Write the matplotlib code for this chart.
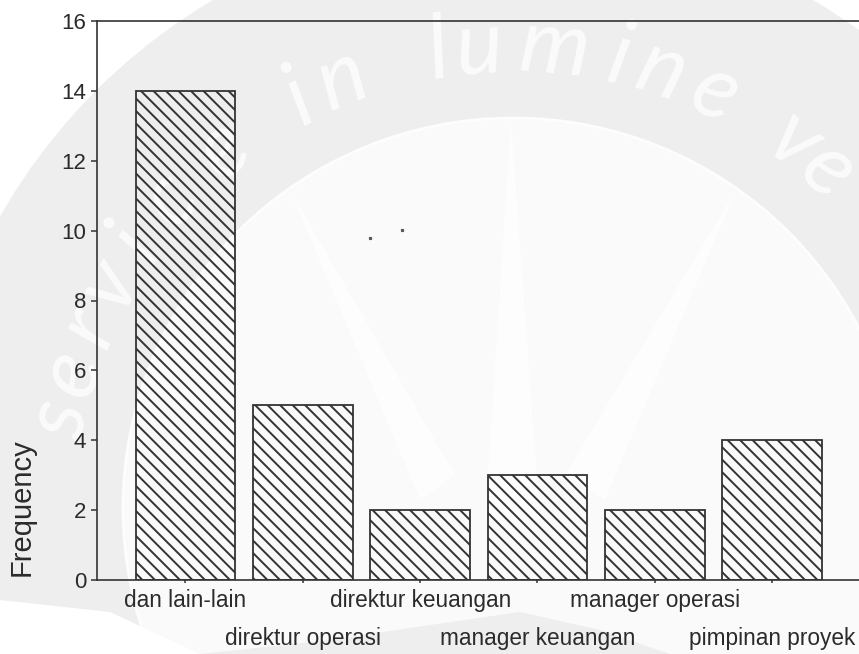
import numpy as np
import matplotlib
matplotlib.use("Agg")
import matplotlib.pyplot as plt
import matplotlib.hatch as mhatch
from matplotlib.patches import Circle, Polygon

categories = ["dan lain-lain", "direktur operasi", "direktur keuangan",
              "manager keuangan", "manager operasi", "pimpinan proyek"]
values = [14, 5, 2, 3, 2, 4]
y_ticks = [0, 2, 4, 6, 8, 10, 12, 14, 16]

# watermark letters and their angle on the seal (degrees from the top)
seal_letters = list("serviceinlumineve")
seal_angles = [-79, -73, -67, -61, -55, -48, -39, -27.5, -21.8,
               -9.4, -4.2, 5.2, 13.3, 18.8, 25.9, 37.5, 43]

W, H = 859, 654
SEAL_X, SEAL_Y = 513, 508
TEXT_COL = "#2b2b2b"
LINE_COL = "#333333"

plt.rcParams["font.family"] = ["Liberation Sans", "DejaVu Sans"]
plt.rcParams["hatch.linewidth"] = 1.4


# default densities are too sparse or too tight, the scan has a line every 12-13 px
class WideHatch(mhatch.SouthEastHatch):
    def __init__(self, hatch, density):
        super().__init__(hatch, density)
        self.num_lines = 16 if self.num_lines else 0
        self.num_vertices = (self.num_lines + 1) * 2


mhatch._hatch_types[mhatch._hatch_types.index(mhatch.SouthEastHatch)] = WideHatch

fig = plt.figure(figsize=(W / 100, H / 100), dpi=100)

# background seal, in pixel coordinates
bg = fig.add_axes([0, 0, 1, 1], zorder=0)
bg.set_xlim(0, W)
bg.set_ylim(H, 0)
bg.axis("off")
bg.add_patch(Circle((SEAL_X, SEAL_Y), 590, fc="#eeeeee", ec="none"))
bg.add_patch(Circle((SEAL_X, SEAL_Y), 390, fc="#fafafa", ec="#fdfdfd", lw=2))
for tip, base in [((511, 118), [(485, 520), (540, 520)]),
                  ((290, 190), [(420, 500), (455, 475)]),
                  ((736, 190), [(565, 475), (605, 500)])]:
    bg.add_patch(Polygon([tip] + base, fc="#fdfdfd", ec="none"))
bg.add_patch(Polygon([(200, 654), (330, 640), (430, 625), (520, 612), (600, 630), (670, 654)],
                     fc="#eeeeee", ec="none"))
bg.add_patch(Polygon([(0, 600), (110, 612), (200, 654), (0, 654)], fc="#ffffff", ec="none"))
for ch, ang in zip(seal_letters, seal_angles):
    a = np.radians(ang)
    bg.text(SEAL_X + 462 * np.sin(a), SEAL_Y - 462 * np.cos(a), ch, rotation=-ang,
            rotation_mode="anchor", ha="center", va="center", fontsize=64,
            family="Lato", style="italic", color="#fbfbfb")
# specks from the scan
bg.plot([370, 402], [238, 230], ls="none", marker="s", ms=1.3, color="#555555")

ax = fig.add_axes([96.5 / W, 1 - 580 / H, (W - 96.5) / W, (580 - 21) / H], zorder=1)
ax.patch.set_alpha(0)

positions = np.arange(len(categories))
ax.bar(positions, values, width=0.85, facecolor="none", edgecolor=LINE_COL,
       linewidth=1.3, hatch="\\")
ax.set_xlim(-0.758, 5.74)
ax.set_ylim(0, 16)
ax.set_yticks(y_ticks)
ax.set_xticks(positions)
ax.set_xticklabels([])
ax.tick_params(axis="y", labelsize=16, length=4, width=1.1, color=LINE_COL,
               labelcolor=TEXT_COL, pad=3.5)
ax.tick_params(axis="x", length=2.5, width=1.1, color=LINE_COL)

# labels stagger onto two rows like the original
for i, name in enumerate(categories):
    y_off = -15 if i % 2 == 0 else -42
    ax.annotate(name, (positions[i], 0), xytext=(0, y_off), textcoords="offset points",
                ha="center", va="center", fontsize=16.3, color=TEXT_COL,
                annotation_clip=False)

ax.set_ylabel("Frequency", fontsize=21, color=TEXT_COL)
ax.yaxis.set_label_coords(-0.08, 0.13)
ax.spines["right"].set_visible(False)
for side in ["left", "top", "bottom"]:
    ax.spines[side].set_color(LINE_COL)
    ax.spines[side].set_linewidth(1.2)

fig.savefig("out.png", dpi=100)
